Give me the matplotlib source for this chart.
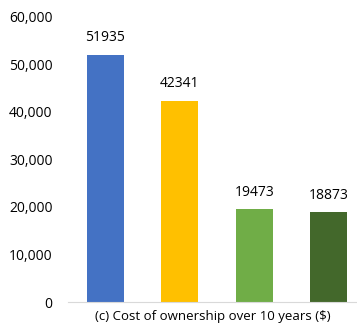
import numpy as np
import matplotlib.pyplot as plt

# values
labels = ['A', 'B', 'C', 'D']
costs = [51935, 42341, 19473, 18873]
colors = ['#4472C4', '#FFC000', '#70AD47', '#43682B']
yticks = [0, 10000, 20000, 30000, 40000, 50000, 60000]

plt.rcParams['font.family'] = ['Open Sans', 'DejaVu Sans']

fig = plt.figure(figsize=(3.57, 3.31), dpi=100)
W, H = 357, 331
ax = fig.add_axes([68 / W, 1 - 302 / H, (357 - 68) / W, (302 - 16.5) / H])

x = np.arange(len(costs))
bars = ax.bar(x, costs, width=0.5, color=colors)
for b, v in zip(bars, costs):
    ax.text(b.get_x() + b.get_width() / 2, v + 2000, str(v),
            ha='center', va='bottom', fontsize=10, color='#000000')

ax.set_xlim(-0.5, 3.38)
ax.set_ylim(0, 60000)
ax.set_yticks(yticks)
ax.set_yticklabels(['{:,}'.format(t) for t in yticks], fontsize=10, color='#000000')
ax.tick_params(axis='y', length=0, pad=11)
ax.set_xticks([])
for s in ['top', 'right', 'left']:
    ax.spines[s].set_visible(False)
ax.spines['bottom'].set_color('#D9D9D9')
ax.set_xlabel('(c) Cost of ownership over 10 years ($)', fontsize=9.5, labelpad=6)

fig.savefig('out.png', dpi=100)
